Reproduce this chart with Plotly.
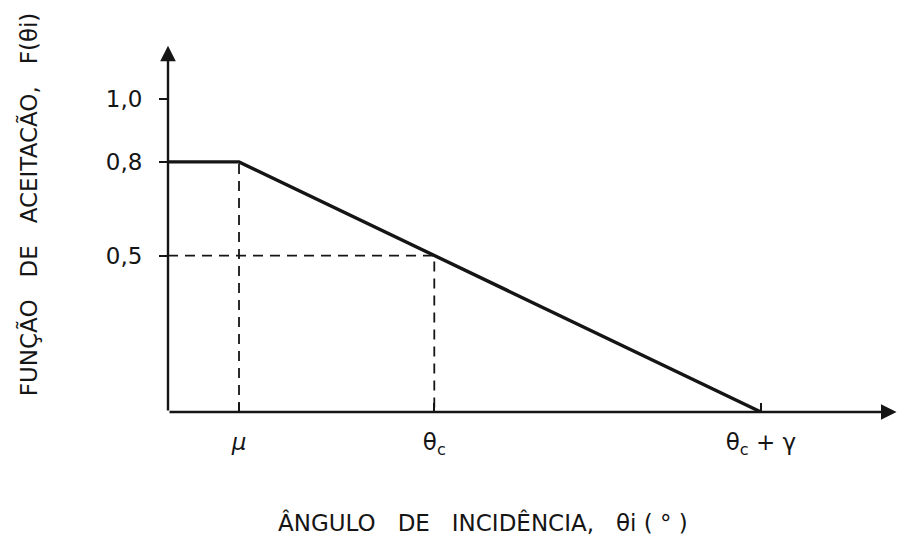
import plotly.graph_objects as go

# Acceptance function F(θi): flat plateau, then linear fall-off
x_pts = [0.0, 1.0, 8.35]          # 0, μ, θc+γ
f_pts = [0.8, 0.8, 0.0]

mu = 1.0
theta_c = 3.75
theta_end = 8.35
f_half = 0.5
f_plateau = 0.8

y_tick_vals = [0.5, 0.8, 1.0]
y_tick_text = ["0,5", "0,8", "1,0"]
x_tick_vals = [mu, theta_c, theta_end]
x_tick_text = ["<i>μ</i>", "θ<sub>c</sub>", "θ<sub>c</sub> + γ"]

x_max = 10.28
y_max = 1.174

ink = "#151515"
dash_style = dict(color=ink, width=1.8, dash="10px,7px")

fig = go.Figure()

# reference dashed guides
fig.add_trace(go.Scatter(x=[mu, mu], y=[0, f_plateau], mode="lines",
                         line=dash_style, hoverinfo="skip", showlegend=False))
fig.add_trace(go.Scatter(x=[0, theta_c, theta_c], y=[f_half, f_half, 0], mode="lines",
                         line=dash_style, hoverinfo="skip", showlegend=False))

# main curve
fig.add_trace(go.Scatter(x=x_pts, y=f_pts, mode="lines",
                         line=dict(color=ink, width=3.4), hoverinfo="skip",
                         showlegend=False))

# axes with arrowheads
fig.add_annotation(x=x_max - 0.02, y=0, ax=0, ay=0, xref="x", yref="y",
                   axref="x", ayref="y", text="", showarrow=True,
                   arrowhead=2, arrowsize=1.3, arrowwidth=2.4, arrowcolor=ink)
fig.add_annotation(x=0, y=y_max - 0.002, ax=0, ay=0, xref="x", yref="y",
                   axref="x", ayref="y", text="", showarrow=True,
                   arrowhead=2, arrowsize=1.3, arrowwidth=2.4, arrowcolor=ink)

# axis titles
fig.add_annotation(x=0.431, y=-0.30, xref="paper", yref="paper",
                   xanchor="center", yanchor="middle",
                   text="ÂNGULO   DE   INCIDÊNCIA,   θi ( ° )",
                   showarrow=False, font=dict(size=23, color=ink))
fig.add_annotation(x=-0.19, y=0.567, xref="paper", yref="paper",
                   xanchor="center", yanchor="middle",
                   text="FUNÇÃO   DE   ACEITACÃO,   F(θi)", textangle=-90,
                   showarrow=False, font=dict(size=23, color=ink))

fig.update_xaxes(range=[0, x_max], showgrid=False, zeroline=False, showline=False,
                 tickmode="array", tickvals=x_tick_vals, ticktext=x_tick_text,
                 ticks="inside", ticklen=9, tickwidth=2, tickcolor=ink,
                 tickfont=dict(size=23, color=ink), ticklabelstandoff=14)
fig.update_yaxes(range=[0, y_max], showgrid=False, zeroline=False, showline=False,
                 tickmode="array", tickvals=y_tick_vals, ticktext=y_tick_text,
                 ticks="outside", ticklen=8, tickwidth=2, tickcolor=ink,
                 tickfont=dict(size=23, color=ink), ticklabelstandoff=12)

fig.update_layout(
    width=898, height=545,
    margin=dict(l=168, r=0, t=45, b=133),
    plot_bgcolor="white", paper_bgcolor="white",
    font=dict(family="DejaVu Sans", color=ink),
)

fig.write_html("out.html")
